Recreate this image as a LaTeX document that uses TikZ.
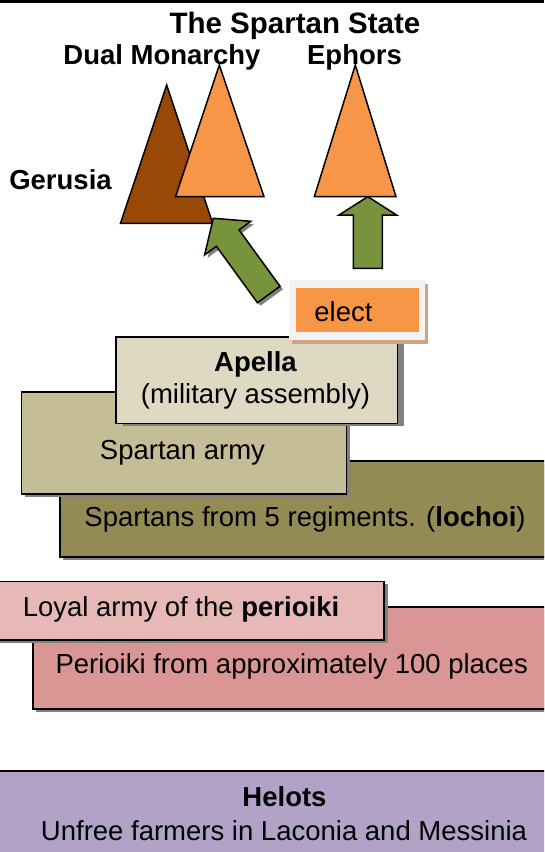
\documentclass[tikz,border=0pt]{standalone}
\usepackage{fontspec}
\setmainfont{Liberation Sans}
\usetikzlibrary{shadows}
\definecolor{apellac}{HTML}{DDD9C3}
\definecolor{armyc}{HTML}{C4BD97}
\definecolor{lochoic}{HTML}{948A54}
\definecolor{loyalc}{HTML}{E6B9B8}
\definecolor{perioc}{HTML}{D99694}
\definecolor{helotc}{HTML}{B3A2C7}
\definecolor{orangec}{HTML}{F79646}
\definecolor{brownc}{HTML}{984807}
\definecolor{greenc}{HTML}{77933C}
\definecolor{shadowc}{HTML}{808080}
\definecolor{tanc}{HTML}{CFA484}
\definecolor{framec}{HTML}{F2F2F2}
\begin{document}
\begin{tikzpicture}[x=1pt,y=-1pt,
  lbl/.style={inner sep=0pt, anchor=base, font=\fontsize{27.5}{31}\selectfont},
  blbl/.style={lbl, font=\bfseries\fontsize{27.5}{31}\selectfont},
  box/.style={draw=black, line width=1.5pt, rectangle, inner sep=0pt, anchor=north west},
  shad/.style={general shadow={fill=shadowc, shadow xshift=#1, shadow yshift=-3pt}},
  tri/.style={draw=black, line width=1.5pt, line join=miter},
  arrowshape/.style={draw=black, line width=1.5pt, fill=greenc, line join=miter}
]
\useasboundingbox (0,0) rectangle (544,852);
\clip (0,0) rectangle (544,852);
\fill[white] (0,0) rectangle (544,852);

% top rule
\draw[line width=2.5pt] (0,1.25) -- (544,1.25);

% layered boxes
\node[box, fill=helotc, minimum width=570pt, minimum height=100pt] (helots) at (-10,770) {};
\node[box, fill=perioc, shad=3pt, minimum width=530pt, minimum height=102.3pt] (perio) at (32.3,606) {};
\node[box, fill=loyalc, shad=4pt, minimum width=393.3pt, minimum height=58.6pt] (loyal) at (-10,580.7) {};
\node[box, fill=lochoic, shad=3pt, minimum width=500pt, minimum height=96pt] (lochoi) at (59,460) {};
\node[box, fill=armyc, shad=4pt, minimum width=325pt, minimum height=102.3pt] (army) at (20.7,391) {};
\node[box, fill=apellac, shad=7pt, minimum width=281.7pt, minimum height=86.7pt] (apella) at (115,336) {};

% elect box
\node[rectangle, inner sep=0pt, anchor=north west, fill=framec,
      general shadow={fill=tanc, shadow xshift=3pt, shadow yshift=-4pt},
      minimum width=136pt, minimum height=60pt] (electframe) at (289,280) {};
\node[rectangle, inner sep=0pt, anchor=north west, fill=orangec,
      minimum width=122.3pt, minimum height=44.4pt] (electbox) at (296,287.3) {};

% triangles
\draw[tri, fill=brownc] (166.7,85) -- (212.7,223.3) -- (120.5,223.3) -- cycle;
\draw[tri, fill=orangec] (219.3,65) -- (264,196.7) -- (175.5,196.7) -- cycle;
\draw[tri, fill=orangec] (355.3,65) -- (396,196.7) -- (314.3,196.7) -- cycle;

% diagonal arrow with shadow
\fill[shadowc, shift={(3,3)}] (213.3,218.3) -- (250.8,221.3) -- (239.0,229.9) -- (280.0,286.3)
   -- (257.4,302.7) -- (216.4,246.3) -- (204.6,254.9) -- cycle;
\draw[arrowshape] (213.3,218.3) -- (250.8,221.3) -- (239.0,229.9) -- (280.0,286.3)
   -- (257.4,302.7) -- (216.4,246.3) -- (204.6,254.9) -- cycle;

% vertical arrow
\draw[arrowshape] (367.8,196.7) -- (396.6,215) -- (382.3,215) -- (382.3,268.3)
   -- (353.3,268.3) -- (353.3,215) -- (339,215) -- cycle;

% texts
\node[lbl, font=\bfseries\fontsize{29.5}{33}\selectfont] (title) at (295,33) {The Spartan State};
\node[blbl] (dual) at (162,64) {Dual Monarchy};
\node[blbl] (ephors) at (354.5,64) {Ephors};
\node[blbl] (gerusia) at (60.5,189) {Gerusia};
\node[lbl] (elect) at (343.5,321.7) {elect};
\node[blbl] (apellat) at (255.5,371) {Apella};
\node[lbl] (assembly) at (255.5,403.3) {(military assembly)};
\node[lbl] (armyt) at (182.5,459) {Spartan army};
\node[lbl] (lochoit) at (305,526) {Spartans from 5 regiments. (\textbf{lochoi})};
\node[lbl] (loyalt) at (181,616.7) {Loyal army of the \textbf{perioiki}};
\node[lbl] (periot) at (291.7,673.3) {Perioiki from approximately 100 places};
\node[blbl] (helott) at (284.5,806.6) {Helots};
\node[lbl] (unfreet) at (284,840) {Unfree farmers in Laconia and Messinia};
\end{tikzpicture}
\end{document}
